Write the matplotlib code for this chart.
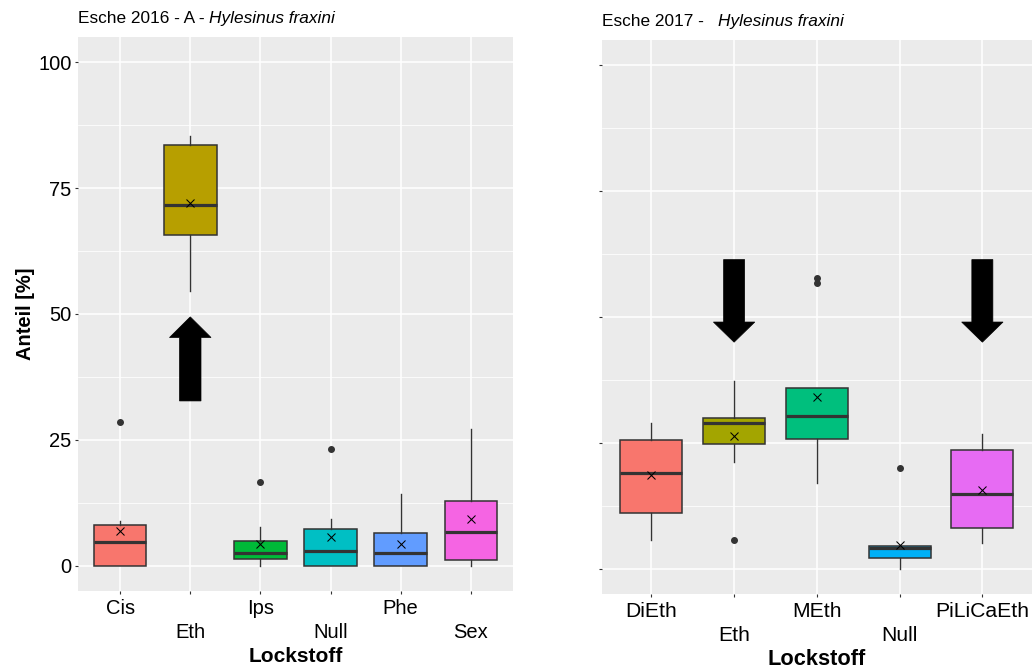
import matplotlib
matplotlib.use("Agg")
import matplotlib.pyplot as plt
from matplotlib.patches import Polygon
from matplotlib.ticker import MultipleLocator

plt.rcParams['font.family'] = ['Liberation Sans', 'DejaVu Sans']

# ---- Esche 2016 ----
left_cats = ['Cis', 'Eth', 'Ips', 'Null', 'Phe', 'Sex']
left_colors = ['#F8766D', '#B79F00', '#00BA38', '#00BFC4', '#619CFF', '#F564E3']
left_q1 = [0.0, 65.6, 1.35, 0.0, 0.0, 1.0]
left_med = [4.6, 71.7, 2.5, 2.9, 2.5, 6.65]
left_q3 = [8.0, 83.5, 4.9, 7.3, 6.5, 12.9]
left_lo = [0.0, 54.5, 0.0, 0.0, 0.0, 0.0]
left_hi = [8.9, 85.4, 7.7, 9.2, 14.2, 27.2]
left_mean = [6.8, 72.1, 4.3, 5.6, 4.2, 9.2]
left_fliers = [[28.6], [], [16.5], [23.1], [], []]

# ---- Esche 2017 ----
right_cats = ['DiEth', 'Eth', 'MEth', 'Null', 'PiLiCaEth']
right_colors = ['#F8766D', '#A3A500', '#00BF7D', '#00B0F6', '#E76BF3']
right_q1 = [11.1, 24.8, 25.8, 2.2, 8.1]
right_med = [19.1, 29.05, 30.4, 4.2, 14.8]
right_q3 = [25.5, 29.9, 35.9, 4.6, 23.6]
right_lo = [5.8, 21.2, 17.0, 0.0, 5.1]
right_hi = [29.0, 37.2, 35.9, 4.6, 26.7]
right_mean = [18.7, 26.3, 34.2, 4.8, 15.6]
right_fliers = [[], [5.75], [57.7, 56.8], [20.05], []]

# highlight arrows: (category position, tail y, tip y)
left_arrows = [(2, 32.7, 49.4)]
right_arrows = [(2, 61.4, 45.0), (5, 61.4, 45.0)]

y_ticks = [0, 25, 50, 75, 100]

GREY20 = '#333333'
PANEL = '#EBEBEB'


def block_arrow(ax, x, y_tail, y_tip, shaft_half, head_half, head_len):
    sign = 1 if y_tip > y_tail else -1
    y_base = y_tip - sign * head_len
    verts = [
        (x - shaft_half, y_tail), (x - shaft_half, y_base),
        (x - head_half, y_base), (x, y_tip), (x + head_half, y_base),
        (x + shaft_half, y_base), (x + shaft_half, y_tail),
    ]
    ax.add_patch(Polygon(verts, closed=True, facecolor='black',
                         edgecolor='black', lw=0.5, zorder=5))


def draw_panel(ax, cats, colors, q1, med, q3, lo, hi, mean, fliers,
               show_ylabels, tick_size, label_size, pads):
    stats = []
    for i, c in enumerate(cats):
        stats.append(dict(label=c, q1=q1[i], med=med[i], q3=q3[i],
                          whislo=lo[i], whishi=hi[i], mean=mean[i],
                          fliers=fliers[i]))
    pos = list(range(1, len(cats) + 1))
    bp = ax.bxp(stats, positions=pos, widths=0.75, patch_artist=True,
                showmeans=True, showcaps=False, showfliers=True,
                boxprops=dict(edgecolor=GREY20, linewidth=1.1),
                medianprops=dict(color=GREY20, linewidth=2.3),
                whiskerprops=dict(color=GREY20, linewidth=1.0),
                meanprops=dict(marker='x', markersize=5.5, markeredgecolor='black',
                               markeredgewidth=0.75, linestyle='none'),
                flierprops=dict(marker='o', markersize=4.0,
                                markerfacecolor=GREY20, markeredgecolor=GREY20,
                                linestyle='none'))
    for patch, col in zip(bp['boxes'], colors):
        patch.set_facecolor(col)
    for art in bp['boxes'] + bp['medians'] + bp['whiskers']:
        art.set_zorder(3)
    for art in bp['means'] + bp['fliers']:
        art.set_zorder(4)

    n = len(cats)
    ax.set_xlim(0.4, n + 0.6)
    ax.set_ylim(-5, 105)
    ax.set_facecolor(PANEL)
    for s in ax.spines.values():
        s.set_visible(False)
    ax.set_yticks(y_ticks)
    ax.yaxis.set_minor_locator(MultipleLocator(12.5))
    ax.set_xticks(pos)
    ax.set_xticklabels(cats)
    ax.grid(which='major', color='white', linewidth=1.1, zorder=0)
    ax.grid(which='minor', axis='y', color='white', linewidth=0.55, zorder=0)
    ax.set_axisbelow(True)
    ax.tick_params(axis='both', which='major', length=2.5, width=0.8,
                   color=GREY20, labelsize=tick_size, labelcolor='black', pad=2)
    ax.tick_params(axis='y', which='minor', length=0)
    if not show_ylabels:
        ax.set_yticklabels([''] * len(y_ticks))
    # two-row dodged category labels
    for i, t in enumerate(ax.xaxis.get_major_ticks()):
        t.set_pad(pads[i % 2])
    ax.set_xlabel('Lockstoff', fontsize=label_size, fontweight='bold')
    return bp


fig = plt.figure(figsize=(10.32, 6.69), dpi=100)
W, H = 1032, 669

axL = fig.add_axes([78 / W, 1 - 590.7 / H, 435 / W, 553.7 / H])
axR = fig.add_axes([601.7 / W, 1 - 594 / H, 430.3 / W, 554 / H])

draw_panel(axL, left_cats, left_colors, left_q1, left_med, left_q3,
           left_lo, left_hi, left_mean, left_fliers, True,
           14.5, 15.0, (3.6, 20.6))
draw_panel(axR, right_cats, right_colors, right_q1, right_med, right_q3,
           right_lo, right_hi, right_mean, right_fliers, False,
           15.2, 15.7, (3.4, 20.6))

for x, yt, yp in left_arrows:
    block_arrow(axL, x, yt, yp, 0.153, 0.296, 4.1)
for x, yt, yp in right_arrows:
    block_arrow(axR, x, yt, yp, 0.127, 0.25, 4.0)

axL.set_ylabel('Anteil [%]', fontsize=14.5, fontweight='bold')
axL.yaxis.set_label_coords(-0.1218, 0.5)
axL.yaxis.label.set_va('center')

axL.xaxis.set_label_coords(0.5, -0.1192)
axL.xaxis.label.set_va('center')
axR.xaxis.set_label_coords(0.5, -0.1191)
axR.xaxis.label.set_va('center')

# titles: plain prefix followed by italic species name
for ax, prefix in [(axL, 'Esche 2016 - A - '), (axR, 'Esche 2017 -   ')]:
    t1 = ax.text(0, 1.0258, prefix, transform=ax.transAxes, fontsize=12.4,
                 ha='left', va='baseline', color='black')
    ax.annotate('Hylesinus fraxini', xy=(1, 0), xycoords=t1,
                ha='left', va='bottom', fontsize=12.4, fontstyle='italic',
                color='black')

fig.savefig('out.png', dpi=100)
